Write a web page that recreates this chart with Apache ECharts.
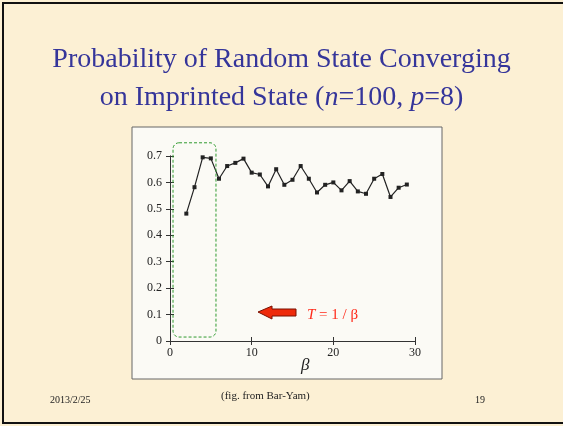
<!DOCTYPE html>
<html><head><meta charset="utf-8">
<script src="https://cdn.jsdelivr.net/npm/echarts@6/dist/echarts.min.js"></script>
<style>html,body{margin:0;padding:0;background:#fcf0d4}#c{width:563px;height:426px}</style>
</head><body><div id="c"></div>
<script>
var betas = [2,3,4,5,6,7,8,9,10,11,12,13,14,15,16,17,18,19,20,21,22,23,24,25,26,27,28,29];
var probs = [0.482,0.582,0.695,0.691,0.614,0.662,0.674,0.690,0.637,0.630,0.585,0.650,0.591,0.610,0.662,0.614,0.562,0.591,0.600,0.570,0.605,0.566,0.557,0.614,0.632,0.545,0.580,0.592];
var xTicks = [0,10,20,30];
var yTicks = [0,0.1,0.2,0.3,0.4,0.5,0.6,0.7];
var boxRange = [[0.37,0.015],[5.63,0.75]];
var serif = '"Liberation Serif","Times New Roman",serif';
var chart = echarts.init(document.getElementById('c'));
var data = betas.map(function(b,i){return [b,probs[i]];});
var axX = {type:'value',min:0,max:30,interval:10,
  axisLine:{lineStyle:{color:'#333',width:1}},splitLine:{show:false}};
var axY = {type:'value',min:0,max:0.7,interval:0.1,
  axisLine:{show:true,lineStyle:{color:'#333',width:1}},splitLine:{show:false}};
var baseGraphic = [
    {type:'rect',shape:{x:3,y:3,width:570,height:420},style:{fill:'none',stroke:'#111',lineWidth:2},z:-10},
    {type:'rect',shape:{x:132,y:127,width:310,height:252},style:{fill:'#fbfaf5',stroke:'#666',lineWidth:1},z:-5},
    {type:'text',left:'center',top:46,style:{text:'Probability of Random State Converging',font:'28px '+serif,fill:'#35359a'}},
    {type:'text',left:'center',top:84,style:{text:'{n|on Imprinted State (}{i|n}{n|=100, }{i|p}{n|=8)}',rich:{n:{font:'28px '+serif,fill:'#35359a'},i:{font:'italic 28px '+serif,fill:'#35359a'}}}},
    {type:'text',left:50,top:395,style:{text:'2013/2/25',font:'10px '+serif,fill:'#222'}},
    {type:'text',left:221,top:391,style:{text:'(fig. from Bar-Yam)',font:'11px '+serif,fill:'#222'}},
    {type:'text',left:475,top:395,style:{text:'19',font:'10px '+serif,fill:'#222'}},
    {type:'polygon',shape:{points:[[258,312],[272,306],[272,309],[296,309],[296,316],[272,316],[272,319]]},style:{fill:'#ee2a0a',stroke:'#7a1000',lineWidth:1}},
    {type:'text',left:307,top:308,style:{text:'{i|T}{n| = 1 / β}',rich:{i:{font:'italic 15px '+serif,fill:'#ff2a1a'},n:{font:'15px '+serif,fill:'#ff2a1a'}}}},
    {type:'text',left:301,top:357,style:{text:'β',font:'italic 17px '+serif,fill:'#222'}}
];
chart.setOption({
  backgroundColor:'#fcf0d4',
  animation:false,
  graphic:baseGraphic,
  grid:{left:170,right:148,top:156,bottom:85},
  xAxis:[
    Object.assign({},axX,{axisTick:{length:4,lineStyle:{color:'#333'}},axisLabel:{color:'#222',fontFamily:serif,fontSize:12,margin:6}}),
    Object.assign({},axX,{position:'bottom',axisTick:{inside:true,length:4,lineStyle:{color:'#333'}},axisLabel:{show:false}})
  ],
  yAxis:[
    Object.assign({},axY,{axisTick:{show:true,length:4,lineStyle:{color:'#333'}},axisLabel:{color:'#222',fontFamily:serif,fontSize:12,margin:8,formatter:function(v){return v===0?'0':v.toFixed(1);}}}),
    Object.assign({},axY,{position:'left',axisTick:{show:true,inside:true,length:4,lineStyle:{color:'#333'}},axisLabel:{show:false}})
  ],
  series:[{
    type:'line',data:data,symbol:'rect',symbolSize:4,
    lineStyle:{color:'#222',width:1.2},itemStyle:{color:'#222'}
  }]
});
var p1 = chart.convertToPixel({gridIndex:0}, boxRange[0]);
var p2 = chart.convertToPixel({gridIndex:0}, boxRange[1]);
chart.setOption({graphic:baseGraphic.concat([{type:'rect',
  shape:{x:Math.min(p1[0],p2[0]),y:Math.min(p1[1],p2[1]),width:Math.abs(p2[0]-p1[0]),height:Math.abs(p2[1]-p1[1]),r:6},
  style:{fill:'none',stroke:'#2f9a2f',lineWidth:1,lineDash:[3,2]},z:5}])});
</script></body></html>
